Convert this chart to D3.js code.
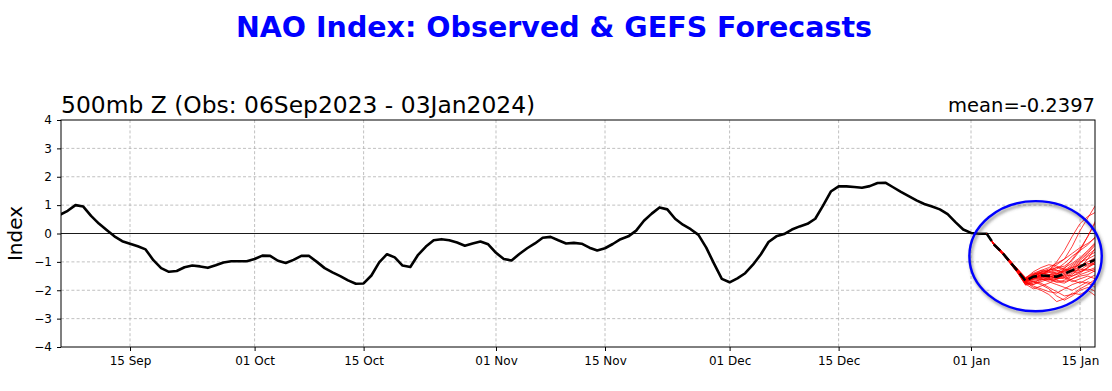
<!DOCTYPE html>
<html><head><meta charset="utf-8">
<script src="https://cdn.jsdelivr.net/npm/d3@7"></script>
<style>
html,body{margin:0;padding:0;background:#fff;}
svg{display:block;font-family:"DejaVu Sans",sans-serif;}
</style></head>
<body><svg id="c" width="1112" height="391"></svg>
<script>
// ---- data ----
const titleText = "NAO Index: Observed & GEFS Forecasts";
const subtitleText = "500mb Z (Obs: 06Sep2023 - 03Jan2024)";
const meanText = "mean=-0.2397";
const obsStartDate = "2023-09-06";            // first observed day (daily data)
const fcstStartDate = "2024-01-03";           // first forecast day (daily data)
const xDomain = ["2023-09-06T03:20:00Z", "2024-01-16T22:10:00Z"];
const yTicks = [-4, -3, -2, -1, 0, 1, 2, 3, 4];
const xTickDates = ["2023-09-15","2023-10-01","2023-10-15","2023-11-01","2023-11-15","2023-12-01","2023-12-15","2024-01-01","2024-01-15"];
const xTickLabels = ["15 Sep","01 Oct","15 Oct","01 Nov","15 Nov","01 Dec","15 Dec","01 Jan","15 Jan"];

const observed = [
 0.66,0.80,1.00,0.95,0.62,0.35,0.12,-0.10,-0.27,-0.36,
 -0.45,-0.56,-0.94,-1.22,-1.35,-1.32,-1.19,-1.13,-1.16,-1.21,
 -1.12,-1.02,-0.98,-0.98,-0.98,-0.90,-0.78,-0.79,-0.96,-1.04,
 -0.93,-0.79,-0.79,-1.00,-1.22,-1.37,-1.50,-1.65,-1.77,-1.76,
 -1.48,-1.02,-0.73,-0.84,-1.13,-1.18,-0.75,-0.46,-0.24,-0.20,
 -0.24,-0.32,-0.43,-0.35,-0.28,-0.38,-0.68,-0.90,-0.95,-0.72,
 -0.52,-0.35,-0.15,-0.12,-0.24,-0.35,-0.33,-0.36,-0.50,-0.60,
 -0.52,-0.37,-0.20,-0.10,0.10,0.45,0.70,0.92,0.85,0.52,
 0.31,0.15,-0.05,-0.50,-1.06,-1.60,-1.72,-1.58,-1.40,-1.10,
 -0.74,-0.30,-0.10,-0.02,0.14,0.25,0.34,0.52,0.98,1.48,
 1.66,1.66,1.64,1.61,1.67,1.78,1.79,1.63,1.47,1.32,
 1.17,1.04,0.95,0.85,0.68,0.40,0.14,0.02,-0.01,-0.01
];

const ensembleMean = [0,-0.40,-0.67,-1.00,-1.32,-1.67,-1.52,-1.48,-1.50,-1.52,-1.42,-1.30,-1.17,-1.03,-0.92,-0.82];

const m01 = [0,-0.38,-0.65,-0.98,-1.30,-1.62,-1.55,-1.45,-1.30,-1.10,-0.90,-0.45,0.10,0.55,1.00,1.40];
const m02 = [0,-0.42,-0.70,-1.02,-1.35,-1.75,-1.80,-1.70,-1.60,-1.65,-1.70,-1.60,-1.50,-1.45,-1.30,-1.20];
const m03 = [0,-0.40,-0.68,-0.95,-1.28,-1.60,-1.45,-1.35,-1.30,-1.20,-1.15,-0.95,-0.60,-0.10,0.45,0.80];
const m04 = [0,-0.41,-0.66,-1.00,-1.33,-1.70,-1.90,-2.00,-2.15,-2.40,-2.30,-2.10,-2.15,-2.00,-2.20,-2.10];
const m05 = [0,-0.39,-0.64,-0.97,-1.25,-1.55,-1.40,-1.30,-1.35,-1.40,-1.30,-1.20,-1.00,-0.90,-0.75,-0.60];
const m06 = [0,-0.43,-0.72,-1.05,-1.40,-1.80,-1.65,-1.60,-1.70,-1.80,-1.90,-2.00,-1.85,-1.70,-1.80,-1.75];
const m07 = [0,-0.40,-0.69,-1.00,-1.32,-1.68,-1.50,-1.40,-1.45,-1.35,-1.20,-1.05,-0.85,-0.60,-0.30,0.10];
const m08 = [0,-0.37,-0.63,-0.94,-1.27,-1.58,-1.35,-1.20,-1.10,-1.15,-1.25,-1.30,-1.20,-1.05,-1.10,-1.00];
const m09 = [0,-0.42,-0.70,-1.03,-1.38,-1.78,-1.95,-1.85,-1.75,-1.60,-1.45,-1.50,-1.40,-1.20,-1.00,-0.80];
const m10 = [0,-0.41,-0.67,-0.99,-1.31,-1.65,-1.60,-1.55,-1.50,-1.55,-1.60,-1.45,-1.20,-0.90,-0.50,-0.30];
const m11 = [0,-0.40,-0.68,-1.01,-1.34,-1.72,-1.70,-1.75,-1.90,-2.05,-2.20,-2.15,-1.95,-1.80,-1.60,-1.50];
const m12 = [0,-0.38,-0.66,-0.96,-1.29,-1.60,-1.50,-1.42,-1.38,-1.30,-1.35,-1.20,-1.10,-1.15,-1.00,-0.90];
const m13 = [0,-0.40,-0.67,-1.00,-1.33,-1.69,-1.55,-1.50,-1.55,-1.45,-1.25,-0.90,-0.55,-0.10,0.40,0.80];
const m14 = [0,-0.43,-0.71,-1.04,-1.39,-1.82,-1.75,-1.60,-1.45,-1.40,-1.50,-1.65,-1.75,-1.60,-1.45,-1.30];
const m15 = [0,-0.39,-0.65,-0.98,-1.30,-1.63,-1.45,-1.30,-1.20,-1.05,-0.90,-0.70,-0.50,-0.35,-0.15,0.10];
const m16 = [0,-0.41,-0.69,-1.02,-1.36,-1.74,-1.85,-1.95,-2.05,-2.10,-1.95,-1.80,-1.70,-1.75,-1.90,-2.00];
const m17 = [0,-0.40,-0.66,-0.97,-1.30,-1.62,-1.52,-1.50,-1.58,-1.62,-1.50,-1.35,-1.25,-1.30,-1.20,-1.10];
const m18 = [0,-0.42,-0.70,-1.03,-1.37,-1.76,-1.60,-1.45,-1.35,-1.25,-1.05,-0.80,-0.60,-0.40,-0.10,0.20];
const m19 = [0,-0.38,-0.64,-0.95,-1.26,-1.57,-1.42,-1.38,-1.45,-1.50,-1.40,-1.25,-1.05,-0.80,-0.65,-0.50];
const m20 = [0,-0.42,-0.71,-1.04,-1.38,-1.80,-1.70,-1.62,-1.60,-1.70,-1.75,-1.60,-1.45,-1.35,-1.25,-1.15];
const m21 = [0,-0.40,-0.68,-1.00,-1.32,-1.66,-1.58,-1.52,-1.48,-1.42,-1.35,-1.15,-0.95,-0.70,-0.40,-0.20];
const m22 = [0,-0.41,-0.69,-1.01,-1.35,-1.70,-1.62,-1.55,-1.62,-1.72,-1.65,-1.50,-1.35,-1.25,-1.35,-1.40];
const m23 = [0,-0.39,-0.66,-0.98,-1.31,-1.64,-1.48,-1.40,-1.30,-1.20,-1.28,-1.35,-1.30,-1.10,-0.95,-0.85];
const m24 = [0,-0.40,-0.67,-0.99,-1.33,-1.67,-1.52,-1.48,-1.52,-1.58,-1.45,-1.30,-1.15,-1.00,-0.85,-0.70];
const m25 = [0,-0.41,-0.68,-1.00,-1.34,-1.70,-1.60,-1.45,-1.30,-1.00,-0.60,-0.10,0.35,0.60,0.75,0.90];
const m26 = [0,-0.39,-0.65,-0.97,-1.29,-1.60,-1.70,-1.80,-1.95,-2.20,-2.35,-2.20,-2.00,-1.90,-2.05,-2.10];
const m27 = [0,-0.42,-0.70,-1.02,-1.36,-1.73,-1.55,-1.35,-1.25,-1.30,-1.40,-1.30,-1.05,-0.75,-0.55,-0.40];
const m28 = [0,-0.40,-0.67,-0.99,-1.32,-1.66,-1.45,-1.38,-1.50,-1.60,-1.55,-1.40,-1.35,-1.20,-1.05,-0.95];
const m29 = [0,-0.38,-0.64,-0.96,-1.28,-1.59,-1.50,-1.60,-1.65,-1.50,-1.30,-1.10,-0.90,-0.65,-0.35,0.00];
const m30 = [0,-0.41,-0.69,-1.01,-1.35,-1.71,-1.80,-1.65,-1.55,-1.45,-1.55,-1.70,-1.60,-1.50,-1.60,-1.55];
const members = [m01,m02,m03,m04,m05,m06,m07,m08,m09,m10,m11,m12,m13,m14,m15,m16,m17,m18,m19,m20,m21,m22,m23,m24,m25,m26,m27,m28,m29,m30];

// highlight ellipse (data coordinates): centre date/value and half-extents
const ellipseCentre = ["2024-01-09T07:00:00Z", -0.80];
const ellipseHalfDays = 8.5;
const ellipseHalfValue = 1.94;

// ---- drawing ----
const W = 1112, H = 391;
const M = {left: 61, right: 17, top: 120, bottom: 44};
const svg = d3.select("#c");
const DAY = 864e5;
const x = d3.scaleUtc().domain(xDomain.map(d => new Date(d))).range([M.left, W - M.right]);
const y = d3.scaleLinear().domain([-4, 4]).range([H - M.bottom, M.top]);

const obsT0 = new Date(obsStartDate + "T00:00:00Z").getTime();
const fcT0 = new Date(fcstStartDate + "T00:00:00Z").getTime();
const obsData = observed.map((v, i) => ({t: new Date(obsT0 + i * DAY), v}));
const toFc = arr => arr.map((v, i) => ({t: new Date(fcT0 + i * DAY), v}));

svg.append("defs").append("clipPath").attr("id", "clip")
  .append("rect").attr("x", M.left).attr("y", M.top)
  .attr("width", W - M.left - M.right).attr("height", H - M.top - M.bottom);
const blur = svg.select("defs").append("filter").attr("id","sh").attr("x","-20%").attr("y","-20%").attr("width","140%").attr("height","140%");
blur.append("feGaussianBlur").attr("stdDeviation", 1.6);

// grid
const grid = svg.append("g");
grid.selectAll(".hg").data(yTicks.filter(v => v !== 0 && v !== 4 && v !== -4)).join("line")
  .attr("x1", M.left).attr("x2", W - M.right)
  .attr("y1", d => y(d)).attr("y2", d => y(d))
  .attr("stroke", "#b0b0b0").attr("stroke-width", 0.8).attr("stroke-dasharray", "3,2.2");
grid.selectAll(".vg").data(xTickDates).join("line")
  .attr("x1", d => x(new Date(d + "T00:00:00Z"))).attr("x2", d => x(new Date(d + "T00:00:00Z")))
  .attr("y1", M.top).attr("y2", H - M.bottom)
  .attr("stroke", "#b0b0b0").attr("stroke-width", 0.8).attr("stroke-dasharray", "3,2.2");
// zero line
svg.append("line").attr("x1", M.left).attr("x2", W - M.right)
  .attr("y1", y(0)).attr("y2", y(0)).attr("stroke", "#000").attr("stroke-width", 0.9);

const line = d3.line().x(d => x(d.t)).y(d => y(d.v));
const plot = svg.append("g").attr("clip-path", "url(#clip)");

// observed
plot.append("path").datum(obsData).attr("d", line)
  .attr("fill", "none").attr("stroke", "#000").attr("stroke-width", 2.6)
  .attr("stroke-linejoin", "round").attr("stroke-linecap", "round");
// ensemble members
plot.selectAll(".mem").data(members).join("path")
  .attr("d", d => line(toFc(d)))
  .attr("fill", "none").attr("stroke", "#ff0000").attr("stroke-opacity", 0.75)
  .attr("stroke-width", 1).attr("stroke-linejoin", "round");
// ensemble mean
plot.append("path").datum(toFc(ensembleMean)).attr("d", line)
  .attr("fill", "none").attr("stroke", "#000").attr("stroke-width", 2.6)
  .attr("stroke-dasharray", "9,4");

// frame
svg.append("rect").attr("x", M.left).attr("y", M.top)
  .attr("width", W - M.left - M.right).attr("height", H - M.top - M.bottom)
  .attr("fill", "none").attr("stroke", "#000").attr("stroke-width", 1);

// axes
const yAxis = d3.axisLeft(y).tickValues(yTicks).tickSize(4).tickPadding(5)
  .tickFormat(d => d < 0 ? "\u2212" + Math.abs(d) : String(d));
const gy = svg.append("g").attr("transform", `translate(${M.left},0)`).call(yAxis);
gy.select(".domain").remove();
gy.selectAll("text").attr("font-size", 12).attr("font-family", "DejaVu Sans").attr("fill", "#000");

const xAxis = d3.axisBottom(x).tickValues(xTickDates.map(d => new Date(d + "T00:00:00Z"))).tickSize(4).tickPadding(5)
  .tickFormat((d, i) => xTickLabels[i]);
const gx = svg.append("g").attr("transform", `translate(0,${H - M.bottom})`).call(xAxis);
gx.select(".domain").remove();
gx.selectAll("text").attr("font-size", 12).attr("font-family", "DejaVu Sans").attr("fill", "#000");

// y label
svg.append("text").attr("transform", `translate(22,${y(0)}) rotate(-90)`)
  .attr("text-anchor", "middle").attr("font-size", 20).text("Index");

// title texts
svg.append("text").attr("x", 554).attr("y", 37).attr("text-anchor", "middle")
  .attr("font-size", 28.5).attr("font-weight", "bold").attr("fill", "#0000ff").text(titleText);
svg.append("text").attr("x", M.left).attr("y", 113).attr("font-size", 23.4).text(subtitleText);
svg.append("text").attr("x", W - M.right).attr("y", 112).attr("text-anchor", "end")
  .attr("font-size", 19.5).text(meanText);

// highlight ellipse with soft shadow
const cx = x(new Date(ellipseCentre[0])), cy = y(ellipseCentre[1]);
const rx = x(new Date(new Date(ellipseCentre[0]).getTime() + ellipseHalfDays * DAY)) - cx;
const ry = y(ellipseCentre[1] - ellipseHalfValue) - cy;
svg.append("ellipse").attr("cx", cx + 1.5).attr("cy", cy + 2.5).attr("rx", rx).attr("ry", ry)
  .attr("fill", "none").attr("stroke", "#555").attr("stroke-opacity", 0.55).attr("stroke-width", 3)
  .attr("filter", "url(#sh)");
svg.append("ellipse").attr("cx", cx).attr("cy", cy).attr("rx", rx).attr("ry", ry)
  .attr("fill", "none").attr("stroke", "#0000ff").attr("stroke-width", 2.4);
</script></body></html>
